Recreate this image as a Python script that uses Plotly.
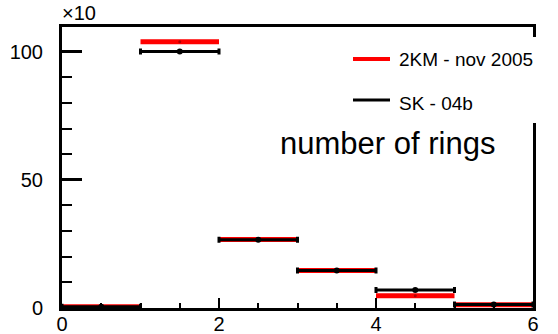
import plotly.graph_objects as go

# Histogram binning: number of rings per event
bin_edges = [0, 1, 2, 3, 4, 5, 6]
bin_centers = [0.5, 1.5, 2.5, 3.5, 4.5, 5.5]
bin_half_width = [0.5, 0.5, 0.5, 0.5, 0.5, 0.5]

# Entries per bin (in units of 10^3 events)
km2_nov2005 = [0.5, 103.8, 26.7, 14.6, 4.8, 1.3]
sk_04b = [0.5, 100.0, 26.6, 14.6, 7.0, 1.4]

x_ticks = [0, 2, 4, 6]
y_ticks = [0, 50, 100]

FONT = "Liberation Sans"

# Frame position in pixels (plot area)
L, R, T, B = 62, 533, 27, 308
W, H = 558, 334


def px(x):
    return (x - L) / (R - L)


def py(y):
    return (B - y) / (B - T)


fig = go.Figure()

fig.add_trace(go.Scatter(
    x=bin_centers, y=km2_nov2005, mode="markers",
    marker=dict(color="#b00000", size=3),
    error_x=dict(type="data", array=bin_half_width, color="#ff0000",
                 thickness=5, width=0),
    showlegend=False, name="2KM - nov 2005",
))

fig.add_trace(go.Scatter(
    x=bin_centers, y=sk_04b, mode="markers",
    marker=dict(color="black", size=6),
    error_x=dict(type="data", array=bin_half_width, color="black",
                 thickness=3, width=3),
    showlegend=False, name="SK - 04b",
))

shapes = [
    # white legend pad covering the right edge of the frame
    dict(type="rect", xref="paper", yref="paper", layer="above",
         x0=px(345), x1=px(565), y0=py(123), y1=py(37),
         fillcolor="white", line=dict(width=0)),
    dict(type="line", xref="paper", yref="paper", layer="above",
         x0=px(353), x1=px(390), y0=py(59), y1=py(59),
         line=dict(color="#ff0000", width=4)),
    dict(type="line", xref="paper", yref="paper", layer="above",
         x0=px(353), x1=px(390), y0=py(100), y1=py(100),
         line=dict(color="black", width=3)),
]

annotations = [
    dict(text="×10", xref="paper", yref="paper", x=px(60), y=py(26),
         xanchor="left", yanchor="bottom", showarrow=False,
         font=dict(family=FONT, size=20, color="black")),
    dict(text="2KM - nov 2005", xref="paper", yref="paper", x=px(397), y=py(60),
         xanchor="left", yanchor="middle", showarrow=False,
         font=dict(family=FONT, size=19, color="black")),
    dict(text="SK - 04b", xref="paper", yref="paper", x=px(397), y=py(103),
         xanchor="left", yanchor="middle", showarrow=False,
         font=dict(family=FONT, size=19, color="black")),
    dict(text="number of rings", xref="paper", yref="paper", x=px(278), y=py(143),
         xanchor="left", yanchor="middle", showarrow=False,
         font=dict(family=FONT, size=31, color="black")),
]

fig.update_layout(
    width=W, height=H,
    margin=dict(l=L, r=W - R, t=T, b=H - B, pad=0, autoexpand=False),
    paper_bgcolor="white", plot_bgcolor="white",
    font=dict(family=FONT, size=20, color="black"),
    shapes=shapes, annotations=annotations,
    showlegend=False,
)

fig.update_xaxes(
    automargin=False,
    range=[bin_edges[0], bin_edges[-1]],
    tickvals=x_ticks, ticktext=[str(v) for v in x_ticks],
    ticks="inside", ticklen=10, tickwidth=2, tickcolor="black",
    minor=dict(dtick=0.5, ticks="inside", ticklen=5, tickwidth=2, tickcolor="black"),
    showline=True, linewidth=3, linecolor="black", mirror=True,
    showgrid=False, zeroline=False,
    tickfont=dict(family=FONT, size=20, color="black"),
    ticklabelstandoff=-4,
)

fig.update_yaxes(
    automargin=False,
    range=[0, 109.6],
    tickvals=y_ticks, ticktext=[str(v) for v in y_ticks],
    ticks="inside", ticklen=20, tickwidth=3, tickcolor="black",
    minor=dict(dtick=10, ticks="inside", ticklen=10, tickwidth=2, tickcolor="black"),
    showline=True, linewidth=3, linecolor="black", mirror=True,
    showgrid=False, zeroline=False,
    tickfont=dict(family=FONT, size=20, color="black"),
    ticklabelstandoff=12,
)

fig.write_html("out.html")
